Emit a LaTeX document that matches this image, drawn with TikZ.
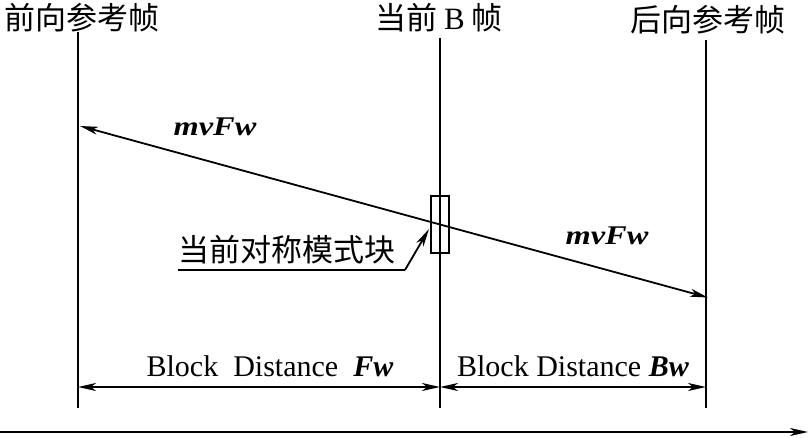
\documentclass[tikz,border=0pt]{standalone}
\usepackage{fontspec}
\setmainfont{Liberation Serif}
\newfontfamily\cjk{Noto Sans CJK SC}
\usetikzlibrary{arrows.meta}
\begin{document}
\begin{tikzpicture}[x=1bp,y=-1bp,
  frame/.style={line width=1.8bp},
  tipa/.tip={Stealth[length=18bp,width=8bp,inset=5bp]},
  arr/.style={line width=1.8bp,-tipa},
  dim/.style={line width=1.8bp,tipa-tipa},
  title/.style={inner sep=0pt,font=\fontsize{31bp}{34bp}\selectfont\cjk},
  mv/.style={inner sep=0pt,font=\fontsize{27bp}{30bp}\selectfont\bfseries\itshape,xscale=1.2},
  dist/.style={inner sep=0pt,font=\fontsize{30bp}{33bp}\selectfont}]
\useasboundingbox (0,0) rectangle (809,438);
% titles
\node[title] (tF) at (82,18) {前向参考帧};
\node[title] (tC) at (439,18) {当前 {\rmfamily B} 帧};
\node[title] (tB) at (708,20) {后向参考帧};
% frame lines
\coordinate (fT) at (78,32);  \coordinate (fB) at (78,408);
\coordinate (cT) at (440,38); \coordinate (cB) at (440,408);
\coordinate (bT) at (706,40); \coordinate (bB) at (706,408);
\draw[frame] (fT) -- (fB);
\draw[frame] (cT) -- (cB);
\draw[frame] (bT) -- (bB);
% current block
\node[draw,line width=1.8bp,minimum width=18bp,minimum height=57bp,inner sep=0pt] (blk) at (440,224.5) {};
% motion vectors
\coordinate (mid) at (440,224.5);
\coordinate (mvL) at (80,126);
\coordinate (mvR) at (708,297.5);
\draw[arr] (mid) -- (mvL);
\draw[arr] (mid) -- (mvR);
\node[mv] (mv1) at (215,127) {mvFw};
\node[mv] (mv2) at (607,236) {mvFw};
% label for block
\node[title,anchor=south west] (lbl) at (178,264) {当前对称模式块};
\coordinate (lu) at (405,270);
\coordinate (ls) at (178,270);
\coordinate (lt) at (429,229);
\draw[frame] (ls) -- (lu);
\draw[arr] (lu) -- (lt);
% dimension arrows
\coordinate (d1) at (78,387); \coordinate (d2) at (440,387); \coordinate (d3) at (706,387);
\draw[dim] (d1) -- (d2);
\draw[dim] (d2) -- (d3);
\node[dist] (l1) at (270,366) {Block\ \ Distance\ \ \textbf{\textit{Fw}}};
\node[dist] (l2) at (573,366) {Block\ Distance\ \textbf{\textit{Bw}}};
% time axis
\coordinate (aL) at (0,432); \coordinate (aR) at (808,432);
\draw[arr] (aL) -- (aR);
\end{tikzpicture}
\end{document}
